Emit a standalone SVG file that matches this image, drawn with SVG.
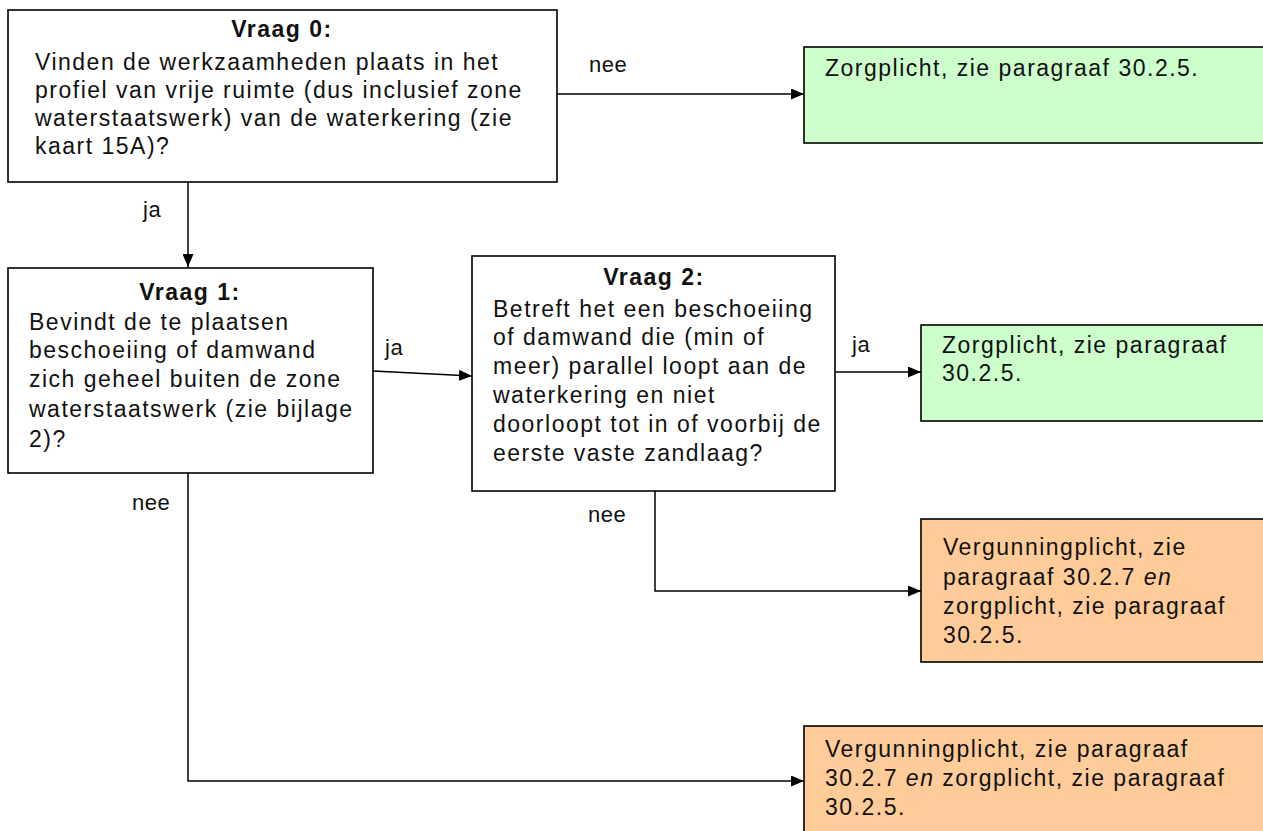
<svg xmlns="http://www.w3.org/2000/svg" width="1263" height="831" viewBox="0 0 1263 831">
<style>
.box{fill:#fff;stroke:#000;stroke-width:1.6}
.green{fill:#ccffcc;stroke:#000;stroke-width:1.6}
.orange{fill:#ffcc99;stroke:#000;stroke-width:1.6}
text{font-family:"Liberation Sans",Arial,sans-serif;font-size:23px;letter-spacing:1.5px;fill:#111}
.t{font-weight:bold;text-anchor:middle}
.lbl{font-size:22px;letter-spacing:0.5px}
.con{fill:none;stroke:#000;stroke-width:1.5;marker-end:url(#ah)}
</style>
<defs>
<marker id="ah" viewBox="0 0 13 11" refX="13" refY="5.5" markerWidth="13" markerHeight="11" markerUnits="userSpaceOnUse" orient="auto">
<path d="M0,0 L13,5.5 L0,11 Z" fill="#000"/>
</marker>
</defs>
<rect width="1263" height="831" fill="#fff"/>
<g id="connectors">
<line class="con" x1="557" y1="94" x2="804" y2="94"/>
<line class="con" x1="188" y1="182" x2="188" y2="267"/>
<line class="con" x1="373" y1="371" x2="472" y2="376"/>
<line class="con" x1="835" y1="372" x2="921" y2="372"/>
<polyline class="con" points="655,491 655,591 921,591"/>
<polyline class="con" points="188,473 188,781 804,781"/>
<text class="lbl" x="589" y="72">nee</text>
<text class="lbl" x="143" y="217">ja</text>
<text class="lbl" x="385" y="355">ja</text>
<text class="lbl" x="852" y="352">ja</text>
<text class="lbl" x="588" y="522">nee</text>
<text class="lbl" x="132" y="510">nee</text>
</g>
<g id="vraag0">
<rect class="box" x="8" y="10" width="549" height="172"/>
<text class="t" x="282" y="37">Vraag 0:</text>
<text x="35" y="70">Vinden de werkzaamheden plaats in het</text>
<text x="35" y="98">profiel van vrije ruimte (dus inclusief zone</text>
<text x="35" y="126">waterstaatswerk) van de waterkering (zie</text>
<text x="35" y="154">kaart 15A)?</text>
</g>
<g id="zorg1">
<rect class="green" x="804" y="47" width="470" height="96"/>
<text x="825" y="76">Zorgplicht, zie paragraaf 30.2.5.</text>
</g>
<g id="vraag1">
<rect class="box" x="8" y="268" width="365" height="205"/>
<text class="t" x="190" y="300">Vraag 1:</text>
<text x="29" y="330">Bevindt de te plaatsen</text>
<text x="29" y="358">beschoeiing of damwand</text>
<text x="29" y="387">zich geheel buiten de zone</text>
<text x="29" y="417">waterstaatswerk (zie bijlage</text>
<text x="29" y="447">2)?</text>
</g>
<g id="vraag2">
<rect class="box" x="472" y="256" width="363" height="235"/>
<text class="t" x="654" y="285">Vraag 2:</text>
<text x="493" y="317">Betreft het een beschoeiing</text>
<text x="493" y="345">of damwand die (min of</text>
<text x="493" y="374">meer) parallel loopt aan de</text>
<text x="493" y="403">waterkering en niet</text>
<text x="493" y="432">doorloopt tot in of voorbij de</text>
<text x="493" y="461">eerste vaste zandlaag?</text>
</g>
<g id="zorg2">
<rect class="green" x="921" y="325" width="350" height="96"/>
<text x="942" y="353">Zorgplicht, zie paragraaf</text>
<text x="942" y="381">30.2.5.</text>
</g>
<g id="vergunning1">
<rect class="orange" x="921" y="519" width="350" height="143"/>
<text x="943" y="555">Vergunningplicht, zie</text>
<text x="943" y="585">paragraaf 30.2.7 <tspan font-style="italic">en</tspan></text>
<text x="943" y="614">zorgplicht, zie paragraaf</text>
<text x="943" y="643">30.2.5.</text>
</g>
<g id="vergunning2">
<rect class="orange" x="804" y="726" width="470" height="120"/>
<text x="825" y="757">Vergunningplicht, zie paragraaf</text>
<text x="825" y="786">30.2.7 <tspan font-style="italic">en</tspan> zorgplicht, zie paragraaf</text>
<text x="825" y="815">30.2.5.</text>
</g>
</svg>
